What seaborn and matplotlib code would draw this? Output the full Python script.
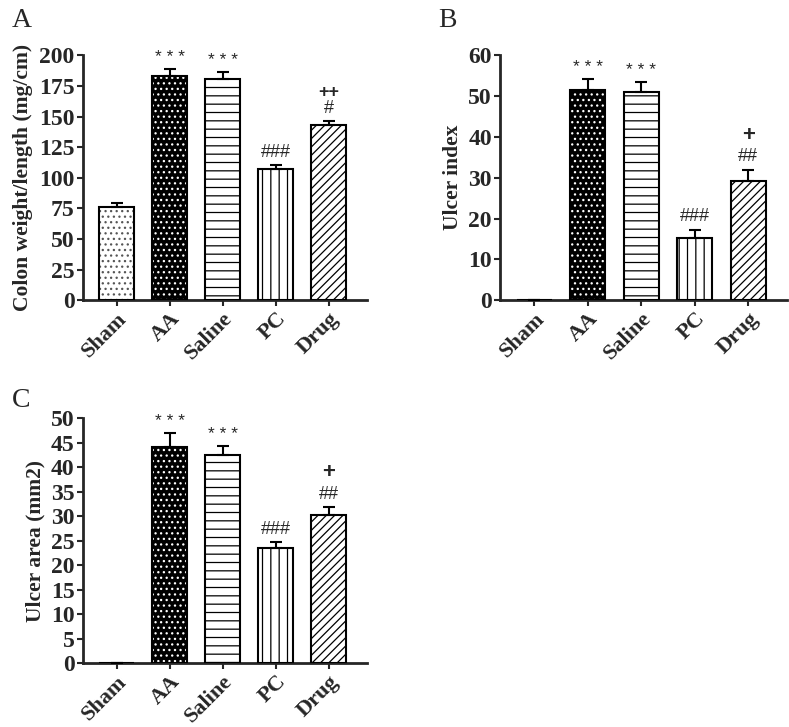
import numpy as np
import pandas as pd
import matplotlib
matplotlib.use('Agg')
import matplotlib.pyplot as plt
import seaborn as sns

groups = ['Sham', 'AA', 'Saline', 'PC', 'Drug']

# A: colon weight/length
colon_mean = [76, 183, 181, 107, 143]
colon_sem = [3.5, 6, 5.5, 3.5, 3]
colon_marks = [[], ['* * *'], ['* * *'], ['###'], ['#', '++']]

# B: ulcer index
index_mean = [0, 51.5, 51, 15.3, 29.2]
index_sem = [0, 2.7, 2.5, 2.0, 2.8]
index_marks = [[], ['* * *'], ['* * *'], ['###'], ['##', '+']]

# C: ulcer area
area_mean = [0, 44, 42.5, 23.5, 30.2]
area_sem = [0, 3.0, 1.7, 1.2, 1.7]
area_marks = [[], ['* * *'], ['* * *'], ['###'], ['##', '+']]

sns.set_style('ticks')
plt.rcParams['font.family'] = ['Liberation Serif', 'DejaVu Serif']
plt.rcParams['hatch.linewidth'] = 0.9

hatches = ['...', '...', '--', '||', '////']
faces = ['white', 'black', 'white', 'white', 'white']
hcols = ['#555555', 'white', 'black', 'black', 'black']


def panel(ax, means, sems, marks, ylabel, ymax, step, mark_step):
    df = pd.DataFrame({'group': groups, 'value': means})
    sns.barplot(data=df, x='group', y='value', color='white', width=0.66,
                edgecolor='black', linewidth=1.5, errorbar=None, ax=ax)
    for p, h, fc, hc in zip(list(ax.patches), hatches, faces, hcols):
        p.set_facecolor(fc)
        p.set_edgecolor(hc)
        p.set_hatch(h)
        p.set_linewidth(0)
        x, w, hgt = p.get_x(), p.get_width(), p.get_height()
        ax.bar(x + w / 2, hgt, width=w, fill=False, edgecolor='black',
               linewidth=1.5, zorder=3)
    xs = np.arange(len(groups))
    ax.errorbar(xs, means, yerr=[np.zeros(len(sems)), sems], fmt='none',
                ecolor='black', elinewidth=1.5, capsize=4, capthick=1.5, zorder=4)
    for x, m, s, mk in zip(xs, means, sems, marks):
        for i, t in enumerate(mk):
            if t.startswith('*'):
                fs, fw = 12.5, 'normal'
            elif t == '+':
                fs, fw = 16, 'bold'
            elif t == '++':
                fs, fw = 13, 'bold'
            else:
                fs, fw = 13, 'normal'
            ax.annotate(t, (x, m + s), xytext=(0, 3 + mark_step * i), textcoords='offset points',
                        ha='center', va='bottom', fontsize=fs, fontweight=fw,
                        fontfamily='Liberation Sans')
    ax.set_ylim(0, ymax)
    ax.set_yticks(np.arange(0, ymax + step / 2, step))
    ax.set_xlim(-0.64, 4.72)
    ax.set_xlabel('')
    ax.set_ylabel(ylabel, fontsize=15.5, fontweight='bold', labelpad=4)
    ax.set_xticks(xs)
    ax.set_xticklabels(groups, rotation=45, ha='right', rotation_mode='anchor')
    for lab in ax.get_xticklabels():
        lab.set_fontsize(16)
        lab.set_fontweight('bold')
    for lab in ax.get_yticklabels():
        lab.set_fontsize(17)
        lab.set_fontweight('bold')
    ax.tick_params(width=1.5, length=4, pad=2)
    for sp in ['left', 'bottom']:
        ax.spines[sp].set_linewidth(2)
    sns.despine(ax=ax)
    return ax


fig = plt.figure(figsize=(7.89, 7.27), dpi=100)
axA = fig.add_axes([0.105, 0.587, 0.36, 0.337])
axB = fig.add_axes([0.634, 0.587, 0.363, 0.337])
axC = fig.add_axes([0.105, 0.088, 0.36, 0.337])

panel(axA, colon_mean, colon_sem, colon_marks, 'Colon weight/length (mg/cm)', 200, 25, 12)
panel(axB, index_mean, index_sem, index_marks, 'Ulcer index', 60, 10, 14)
panel(axC, area_mean, area_sem, area_marks, 'Ulcer area (mm2)', 50, 5, 14)

fig.text(0.015, 0.963, 'A', fontsize=20)
fig.text(0.555, 0.963, 'B', fontsize=20)
fig.text(0.015, 0.44, 'C', fontsize=20)

fig.savefig('out.png', dpi=100)
